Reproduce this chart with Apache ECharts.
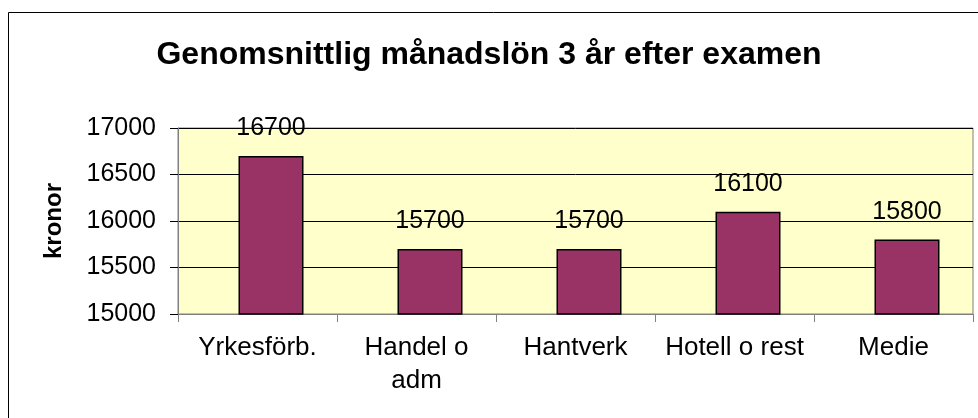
<!DOCTYPE html>
<html>
	<head>
		<meta charset="utf-8">
		<title></title>
		<script src="https://cdn.jsdelivr.net/npm/echarts@6/dist/echarts.min.js"></script>
	</head>
	<body style="margin: 0; overflow: hidden; background: #fff;">
		<div id="main" style="width: 978px; height: 418px;"></div>
		<script type="text/javascript">
			var categories = ['Yrkesförb.', 'Handel o\nadm', 'Hantverk', 'Hotell o rest', 'Medie'];
			var salaries = [16700, 15700, 15700, 16100, 15800];
			var spacer = [null, null, null, null, null]; // tom serie som skjuter staplarna lite åt höger
			var yTicks = [15000, 17000, 500];

			var myChart = echarts.init(document.getElementById('main'));

			var option = {
				animation: false,
				textStyle: { fontFamily: 'Liberation Sans, Arial, sans-serif', color: '#000' },
				title: {
					text: 'Genomsnittlig månadslön 3 år efter examen',
					left: 'center',
					top: 34,
					textStyle: { fontSize: 32, fontWeight: 'bold', color: '#000' }
				},
				graphic: [{
					type: 'rect',
					shape: { x: 8.5, y: 12.5, width: 1000, height: 500 },
					style: { fill: null, stroke: '#000', lineWidth: 1 },
					silent: true
				}],
				grid: {
					left: 178,
					right: 5,
					top: 128,
					bottom: 104,
					show: true,
					backgroundColor: '#FFFFCC',
					borderColor: '#808080',
					borderWidth: 1
				},
				xAxis: {
					type: 'category',
					data: categories,
					axisLine: { lineStyle: { color: '#808080' } },
					axisTick: { show: true, length: 8, lineStyle: { color: '#808080' } },
					axisLabel: { fontSize: 26, color: '#000', margin: 17, lineHeight: 33, interval: 0 }
				},
				yAxis: {
					type: 'value',
					min: yTicks[0],
					max: yTicks[1],
					interval: yTicks[2],
					name: 'kronor',
					nameLocation: 'middle',
					nameGap: 112,
					nameTextStyle: { fontSize: 24, fontWeight: 'bold', color: '#000' },
					axisLine: { show: true, lineStyle: { color: '#808080' } },
					axisTick: { show: true, length: 8, lineStyle: { color: '#000' } },
					axisLabel: {
						fontSize: 25,
						color: '#000',
						margin: 22,
						formatter: function (v) { return String(v); }
					},
					splitLine: { lineStyle: { color: '#000', width: 1 } }
				},
				series: [
					{
						type: 'bar',
						data: spacer,
						barWidth: 27,
						barGap: '0%',
						itemStyle: { color: 'transparent' }
					},
					{
						name: 'kronor',
						type: 'bar',
						data: salaries,
						barWidth: 65,
						barGap: '0%',
						itemStyle: { color: '#993366', borderColor: '#000', borderWidth: 1.5 },
						label: {
							show: true,
							position: 'top',
							distance: 15,
							fontSize: 25,
							color: '#000'
						}
					}
				]
			};
			myChart.setOption(option);
		</script>
	</body>
</html>
